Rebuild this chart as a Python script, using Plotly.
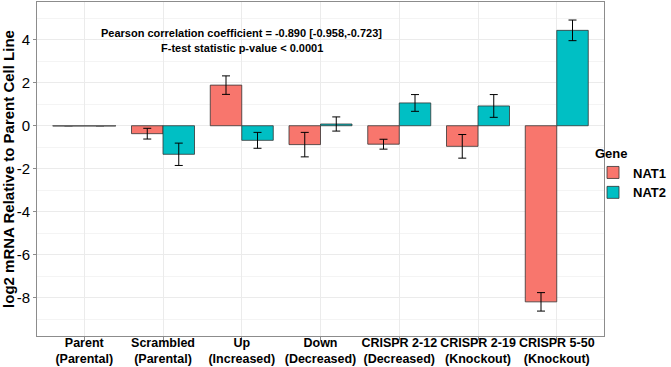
import plotly.graph_objects as go

categories = ["Parent<br>(Parental)", "Scrambled<br>(Parental)", "Up<br>(Increased)", "Down<br>(Decreased)",
              "CRISPR 2-12<br>(Decreased)", "CRISPR 2-19<br>(Knockout)", "CRISPR 5-50<br>(Knockout)"]
nat1_values = [0.0, -0.37, 1.89, -0.88, -0.86, -0.96, -8.20]
nat1_errors = [0.0, 0.25, 0.43, 0.57, 0.23, 0.55, 0.43]
nat2_values = [0.0, -1.33, -0.68, 0.08, 1.06, 0.92, 4.44]
nat2_errors = [0.0, 0.52, 0.37, 0.33, 0.39, 0.53, 0.48]
y_ticks = [4, 2, 0, -2, -4, -6, -8]
y_ticklabels = ["4", "2", "0", "-2", "-4", "-6", "-8"]

FONT = "Liberation Sans, Arial, Helvetica, sans-serif"
BAR_W = 0.4
series = [
    ("NAT1", nat1_values, nat1_errors, "#F8766D", -BAR_W),
    ("NAT2", nat2_values, nat2_errors, "#00BFC4", 0.0),
]

x_pos = list(range(len(categories)))
fig = go.Figure()
for name, vals, errs, color, off in series:
    fig.add_trace(go.Bar(
        x=x_pos, y=vals, name="<b>" + name + "</b>", width=BAR_W, offset=off,
        marker=dict(color=color, line=dict(color="#333333", width=0.8)),
        error_y=dict(type="data", array=[e if e > 0 else None for e in errs],
                     color="black", thickness=1, width=4, visible=True),
    ))

# zero-valued bars are drawn as a flat outline at 0 (as ggplot does)
for name, vals, errs, color, off in series:
    xs, ys = [], []
    for i, v in enumerate(vals):
        if v == 0:
            xs += [i + off, i + off + BAR_W, None]
            ys += [v, v, None]
    if xs:
        fig.add_trace(go.Scatter(x=xs, y=ys, mode="lines", showlegend=False,
                                 line=dict(color="#666666", width=1.5), hoverinfo="skip"))

fig.add_annotation(x=2, y=4.3, xref="x", yref="y", showarrow=False,
                   text="<b>Pearson correlation coefficient = -0.890 [-0.958,-0.723]</b>",
                   font=dict(family=FONT, size=11, color="black"))
fig.add_annotation(x=2, y=3.6, xref="x", yref="y", showarrow=False,
                   text="<b>F-test statistic p-value < 0.0001</b>",
                   font=dict(family=FONT, size=11, color="black"))

fig.update_layout(
    width=671, height=367,
    margin=dict(l=37, r=67, t=2, b=31, autoexpand=False),
    paper_bgcolor="white", plot_bgcolor="white",
    font=dict(family=FONT, color="black"),
    showlegend=True,
    legend=dict(title=dict(text="<b>Gene</b>", font=dict(size=13, family=FONT)),
                xref="container", x=1.0, xanchor="right", y=0.585, yanchor="top",
                font=dict(size=13, family=FONT), tracegroupgap=0, itemwidth=30,
                bgcolor="rgba(0,0,0,0)"),
    bargap=0.2,
)
fig.update_xaxes(
    range=[-0.6, 6.6], tickmode="array", tickvals=x_pos,
    ticktext=["<b>" + c + "</b>" for c in categories],
    tickfont=dict(size=12.5, family=FONT, color="black"), tickangle=0, automargin=False,
    ticklabelstandoff=-8,
    showgrid=True, gridcolor="#ebebeb", gridwidth=1,
    showline=True, linecolor="#8c8c8c", linewidth=1, mirror=True,
    ticks="outside", ticklen=3, tickcolor="#8c8c8c", zeroline=False,
)
fig.update_yaxes(
    range=[-9.79, 5.76], tickmode="array", tickvals=y_ticks, ticktext=y_ticklabels,
    tickfont=dict(size=15, family=FONT, color="black"), automargin=False,
    title=dict(text="<b>log2 mRNA Relative to Parent Cell Line</b>",
               font=dict(size=15, family=FONT, color="black"), standoff=4),
    showgrid=True, gridcolor="#ebebeb", gridwidth=1,
    minor=dict(dtick=1, tick0=0, showgrid=True, gridcolor="#f4f4f4", gridwidth=0.6),
    showline=True, linecolor="#8c8c8c", linewidth=1, mirror=True,
    ticks="outside", ticklen=3, tickcolor="#8c8c8c", zeroline=False,
)
fig.write_html("out.html", config={"displayModeBar": False},
               post_script="document.body.style.margin='0';")
